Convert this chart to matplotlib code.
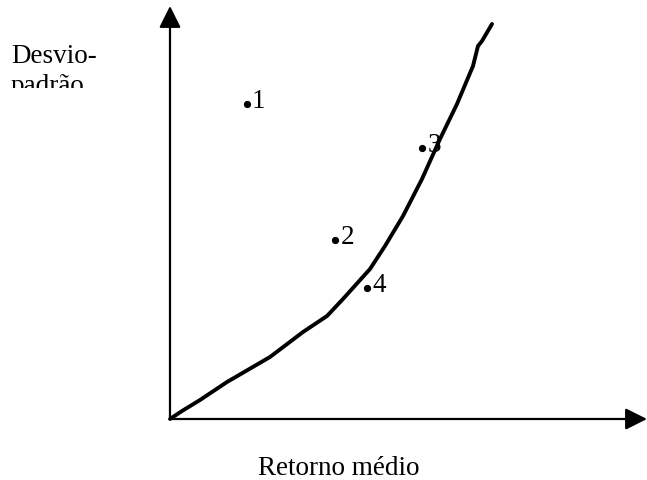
"""Efficient frontier sketch: desvio-padrão vs retorno médio."""

import matplotlib

matplotlib.use("Agg")
import matplotlib.pyplot as plt
from matplotlib.patches import Rectangle

# Data (arbitrary units)
frontier_x = [0, 12, 30, 57, 100, 133, 157, 173, 200, 215, 233, 252, 270, 287, 303, 308, 312, 322]
frontier_y = [0, 8, 19, 37, 62, 87, 103, 120, 150, 173, 203, 240, 280, 315, 353, 373, 378, 395]
point_labels = ["1", "2", "3", "4"]
point_x = [76.5, 165, 252, 197]
point_y = [315, 179, 271, 131]

W, H = 647, 481
fig = plt.figure(figsize=(W / 100, H / 100), dpi=100)
plt.rcParams["font.family"] = ["Liberation Serif", "DejaVu Serif"]
FS = 19.5

# origin of the axes sits at pixel (170, 420)
ax = fig.add_axes([170 / W, (H - 420) / H, (W - 170) / W, 420 / H])
ax.set_xlim(0, W - 170)
ax.set_ylim(0, 420)
ax.axis("off")

arrow = dict(
    arrowstyle="-|>,head_length=0.4,head_width=0.2",
    mutation_scale=33,
    lw=1.6,
    color="black",
    shrinkA=0,
    shrinkB=0,
)
ax.annotate("", xy=(1, 0), xytext=(0, 0), xycoords="axes fraction", arrowprops=arrow)
ax.annotate("", xy=(0, 1 - 7 / 420), xytext=(0, 0), xycoords="axes fraction",
            arrowprops=arrow)

ax.plot(frontier_x, frontier_y, color="black", lw=2.8, solid_joinstyle="round",
        solid_capstyle="round", clip_on=False)

ax.plot(point_x, point_y, "o", color="black", ms=4.2, clip_on=False)
for lbl, x, y in zip(point_labels, point_x, point_y):
    ax.annotate(lbl, (x, y), xytext=(4, -2), textcoords="offset points",
                fontsize=FS, va="baseline", ha="left")

fig.text(11 / W, 1 - 63 / H, "Desvio-", fontsize=FS, va="baseline", ha="left")
t = fig.text(11 / W, 1 - 93 / H, "padrão", fontsize=FS, va="baseline", ha="left")
clip = Rectangle((0, 1 - 89 / H), 0.3, 89 / H, transform=fig.transFigure)
t.set_clip_path(clip)

fig.text(339 / W, 1 - 475 / H, "Retorno médio", fontsize=FS, va="baseline", ha="center")

fig.savefig("out.png", dpi=100)
